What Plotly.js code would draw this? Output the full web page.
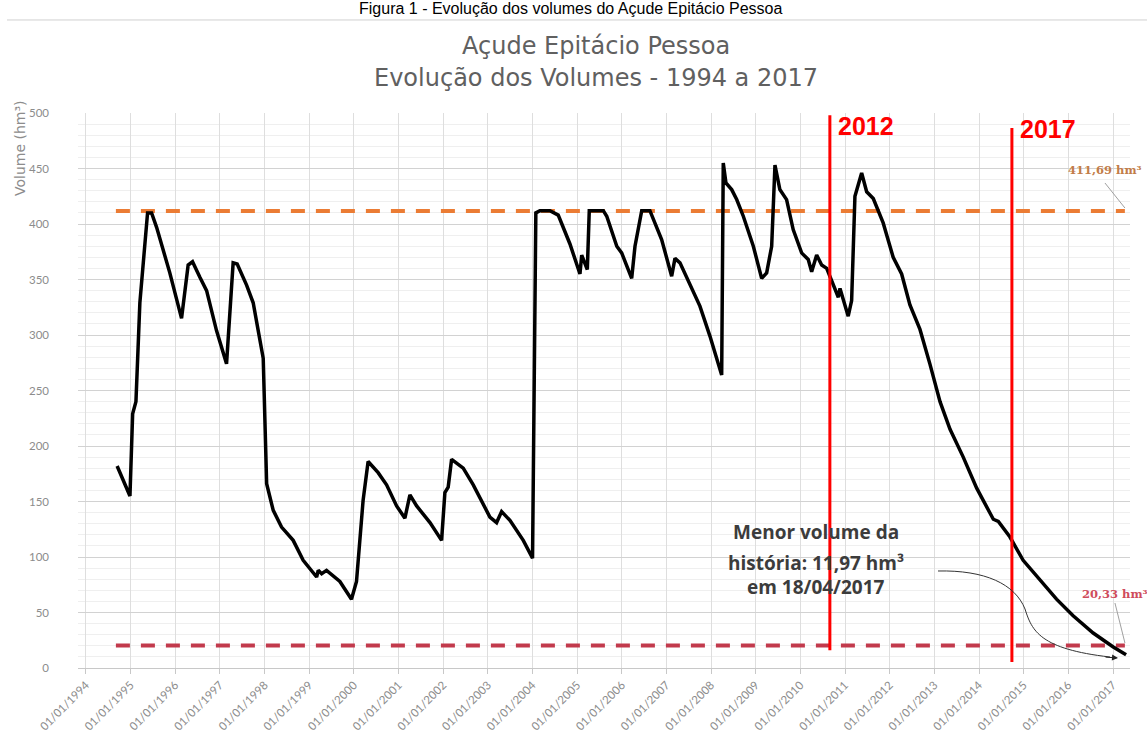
<!DOCTYPE html>
<html>
<head>
<meta charset="utf-8">
<script src="https://cdn.plot.ly/plotly-3.0.1.min.js"></script>
<style>html,body{margin:0;padding:0;background:#fff;}#chart{width:1147px;height:742px;}</style>
</head>
<body>
<div id="chart"></div>
<script>
// ---- data ----
const dates = [
'1994-09-13','1994-12-27','1995-01-18','1995-02-14','1995-03-18','1995-04-14','1995-05-20','1995-06-22','1995-08-02','1995-11-18',
'1996-02-22','1996-04-16','1996-05-22','1996-07-21','1996-09-14','1996-12-04','1997-02-24','1997-04-19','1997-05-22','1997-08-07',
'1997-09-30','1997-12-21','1998-01-18','1998-03-13','1998-05-20','1998-08-23','1998-11-13','1999-03-03','1999-03-16','1999-04-13',
'1999-05-23','1999-09-09','1999-12-13','2000-01-23','2000-02-25','2000-03-17','2000-04-27','2000-07-18','2000-09-25','2000-12-16',
'2001-02-22','2001-04-04','2001-05-29','2001-09-15','2001-12-19','2002-01-15','2002-02-11','2002-03-11','2002-06-14','2002-09-04',
'2003-01-18','2003-03-14','2003-04-24','2003-07-01','2003-10-18','2004-01-02','2004-01-29','2004-03-02','2004-05-23',
'2004-07-30','2004-11-03','2005-01-24','2005-02-07','2005-03-06','2005-03-25','2005-04-10','2005-08-03','2005-08-31','2005-11-21',
'2005-12-31','2006-03-23','2006-04-19','2006-06-13','2006-08-19','2006-11-23','2007-02-13','2007-03-12','2007-04-22','2007-08-08',
'2007-10-02','2007-12-23','2008-03-28','2008-04-10','2008-05-02','2008-06-18','2008-07-29','2008-09-21','2008-12-12','2009-02-18',
'2009-03-31','2009-05-11','2009-06-07','2009-07-17','2009-09-10','2009-11-03','2010-01-11','2010-03-06','2010-04-03','2010-05-14',
'2010-06-24','2010-08-04','2010-09-27','2010-11-07','2010-11-21','2010-12-18','2011-01-27','2011-02-24','2011-03-23','2011-05-17',
'2011-06-27','2011-08-20','2011-11-09','2012-01-30','2012-04-08','2012-06-15','2012-09-05','2012-11-25','2013-02-16','2013-05-09',
'2013-08-25','2013-12-13','2014-04-28','2014-06-08','2014-09-11','2014-12-28','2015-05-14','2015-09-27','2016-02-10','2016-07-23',
'2017-01-03','2017-04-18'];
const volumes = [
182,155,229,240,329,361,410,410,397,356,
315,363,366,352,340,304,274,365,364,345,
329,279,166,142,127,115,97,82,88,85,
88,78,62,78,120,151,186,176,165,146,
135,156,146,131,115,158,163,188,180,165,
136,131,141,133,115,99,410,412,412,
408,382,355,372,365,359,412,412,407,380,
374,351,380,412,412,386,353,369,365,339,
326,299,264,455,437,431,422,407,380,351,
356,380,453,431,422,395,374,368,357,372,
363,360,344,334,342,331,317,331,425,446,
429,423,401,370,355,327,305,274,240,215,
190,162,134,132,118,97,80,62,47,31.5,
19,11.97];

const capacityValue = 411.69;
const limitValue = 20.33;
const refLineDates = ['1994-09-03', '2017-04-08'];

const tickDates = ['1994-01-01','1995-01-01','1996-01-01','1997-01-01','1998-01-01','1999-01-01','2000-01-01','2001-01-01',
'2002-01-01','2003-01-01','2004-01-01','2005-01-01','2006-01-01','2007-01-01','2008-01-01','2009-01-01','2010-01-01',
'2011-01-01','2012-01-01','2013-01-01','2014-01-01','2015-01-01','2016-01-01','2017-01-01'];
const tickLabels = ['01/01/1994','01/01/1995','01/01/1996','01/01/1997','01/01/1998','01/01/1999','01/01/2000','01/01/2001',
'01/01/2002','01/01/2003','01/01/2004','01/01/2005','01/01/2006','01/01/2007','01/01/2008','01/01/2009','01/01/2010',
'01/01/2011','01/01/2012','01/01/2013','01/01/2014','01/01/2015','01/01/2016','01/01/2017'];

const markerLines = [
  {date: '2010-08-30', top: 498, bottom: 16, label: '2012', labelDate: '2010-10-17', labelY: 488},
  {date: '2014-09-27', top: 486.5, bottom: 5.4, label: '2017', labelDate: '2014-11-13', labelY: 486}
];

// ---- traces ----
const traces = [
  {x: refLineDates, y: [capacityValue, capacityValue], mode: 'lines', hoverinfo: 'skip',
   line: {color: '#EB7C34', width: 4, dash: '14px,11px'}},
  {x: refLineDates, y: [limitValue, limitValue], mode: 'lines', hoverinfo: 'skip',
   line: {color: '#C23A4C', width: 4, dash: '14px,11px'}},
  {x: dates, y: volumes, mode: 'lines', line: {color: '#000000', width: 3.5}}
];

const greyTxt = '#8c8c8c';
const shapes = [];
const annotations = [];
markerLines.forEach(m => {
  shapes.push({type: 'line', xref: 'x', yref: 'y', x0: m.date, x1: m.date, y0: m.bottom, y1: m.top,
    line: {color: '#FF0000', width: 3}});
  annotations.push({xref: 'x', yref: 'y', x: m.labelDate, y: m.labelY, xanchor: 'left', yanchor: 'middle',
    text: '<b>' + m.label + '</b>', showarrow: false,
    font: {family: 'Liberation Sans, Arial', size: 25, color: '#FF0000'}});
});

// leader lines & curved arrow (paper coords)
shapes.push({type: 'line', xref: 'paper', yref: 'paper', x0: 0.9762, y0: 0.8739, x1: 0.9952, y1: 0.8288,
  line: {color: '#a0a0a0', width: 1}});
shapes.push({type: 'line', xref: 'paper', yref: 'paper', x0: 0.9857, y0: 0.1171, x1: 0.9952, y1: 0.045,
  line: {color: '#a0a0a0', width: 1}});
shapes.push({type: 'path', xref: 'paper', yref: 'paper',
  path: 'M 0.8175 0.1748 C 0.8622 0.1766 0.8907 0.1514 0.9002 0.1063 C 0.9068 0.0667 0.9144 0.0342 0.9810 0.0198',
  line: {color: '#333333', width: 1}});
// title block
annotations.push({xref: 'paper', yref: 'paper', x: 0.4677, y: 1.1874, xanchor: 'center', yanchor: 'middle',
  text: 'Figura 1 - Evolução dos volumes do Açude Epitácio Pessoa', showarrow: false,
  font: {family: 'Liberation Sans, Arial', size: 16, color: '#000'}});
shapes.push({type: 'line', xref: 'paper', yref: 'paper', x0: -0.0675, x1: 1.0162, y0: 1.1676, y1: 1.1676,
  line: {color: '#d0d0d0', width: 1}});
annotations.push({xref: 'paper', yref: 'paper', x: 0.4924, y: 1.1207, xanchor: 'center', yanchor: 'middle',
  text: 'Açude Epitácio Pessoa', showarrow: false,
  font: {family: 'DejaVu Sans', size: 24, color: '#606060'}});
annotations.push({xref: 'paper', yref: 'paper', x: 0.4924, y: 1.063, xanchor: 'center', yanchor: 'middle',
  text: 'Evolução dos Volumes - 1994 a 2017', showarrow: false,
  font: {family: 'DejaVu Sans', size: 24, color: '#606060'}});
// y axis title
annotations.push({xref: 'paper', yref: 'paper', x: -0.0551, y: 0.937, xanchor: 'center', yanchor: 'middle',
  text: 'Volume (hm³)', textangle: -90, showarrow: false,
  font: {family: 'DejaVu Sans', size: 14, color: greyTxt}});
// value labels
annotations.push({xref: 'paper', yref: 'paper', x: 0.9762, y: 0.8973, xanchor: 'center', yanchor: 'middle',
  text: '<b>411,69 hm³</b>', showarrow: false,
  font: {family: 'DejaVu Serif', size: 11.5, color: '#C27C48'}});
annotations.push({xref: 'paper', yref: 'paper', x: 0.9857, y: 0.1333, xanchor: 'center', yanchor: 'middle',
  text: '<b>20,33 hm³</b>', showarrow: false,
  font: {family: 'DejaVu Serif', size: 11.5, color: '#CF4C5C'}});
// note
const noteLines = ['Menor volume da', 'história: 11,97 hm³', 'em 18/04/2017'];
const noteY = [0.245, 0.189, 0.146];
noteLines.forEach((t, i) => annotations.push({xref: 'paper', yref: 'paper', x: 0.7015, y: noteY[i],
  xanchor: 'center', yanchor: 'middle', text: '<b>' + t + '</b>', showarrow: false,
  font: {family: 'Open Sans', size: 19, color: '#3c3c3c'}}));
// arrow head
annotations.push({xref: 'paper', yref: 'paper', x: 0.9886, y: 0.018, ax: -14, ay: -1, text: '',
  showarrow: true, arrowhead: 2, arrowsize: 1.2, arrowwidth: 1, arrowcolor: '#222'});

const layout = {
  width: 1147, height: 742,
  margin: {l: 78, r: 17, t: 113, b: 74},
  paper_bgcolor: '#ffffff', plot_bgcolor: '#ffffff',
  showlegend: false,
  font: {family: 'Lato, DejaVu Sans', color: greyTxt},
  xaxis: {
    type: 'date', range: ['1993-10-28', '2017-05-20'],
    tickmode: 'array', tickvals: tickDates, ticktext: tickLabels, tickangle: -45,
    tickfont: {family: 'Lato', size: 11.5, color: greyTxt},
    showgrid: true, gridcolor: '#dedede', gridwidth: 1,
    showline: true, linecolor: '#c8c8c8', linewidth: 1,
    ticks: 'outside', ticklen: 5, tickcolor: '#c8c8c8',
    zeroline: false, fixedrange: true
  },
  yaxis: {
    range: [0, 500], tick0: 0, dtick: 50,
    tickfont: {family: 'Lato', size: 11.5, color: greyTxt},
    showgrid: true, gridcolor: '#d2d2d2', gridwidth: 1,
    minor: {dtick: 10, showgrid: true, gridcolor: '#efefef', gridwidth: 1},
    showline: false, zeroline: false, ticks: '',
    ticklabelstandoff: 28, fixedrange: true
  },
  shapes: shapes,
  annotations: annotations
};

Plotly.newPlot('chart', traces, layout, {displayModeBar: false, staticPlot: true});
</script>
</body>
</html>
